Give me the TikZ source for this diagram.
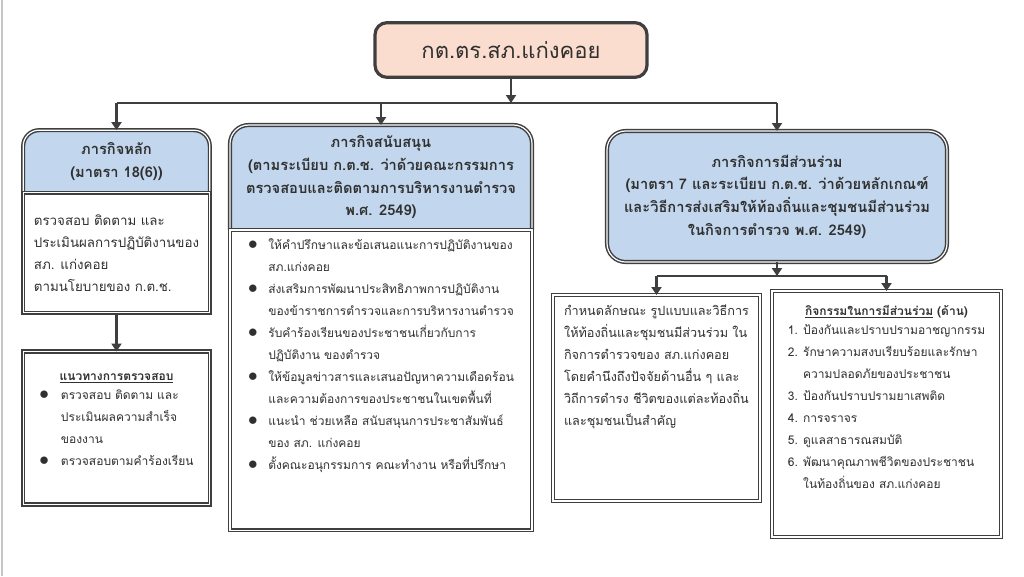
\documentclass[tikz,border=0pt]{standalone}
\usepackage{fontspec}
\setmainfont[Script=Thai]{Loma}
\usepackage{array}
\usetikzlibrary{arrows.meta}
\usetikzlibrary{positioning}
\usetikzlibrary{backgrounds}

\definecolor{edgegray}{HTML}{3F3F3F}
\definecolor{hdrblue}{HTML}{C2D7EE}
\definecolor{toppeach}{HTML}{FBDDD0}
\definecolor{txtgray}{HTML}{303030}

\newcommand{\bl}{{\fontsize{15}{15}\selectfont$\bullet$}}

\begin{document}
\begin{tikzpicture}[
    x=0.75pt, y=-0.75pt,
    node distance=0pt,
    every node/.style={text=txtgray, outer sep=0pt},
    dblline/.style={draw=edgegray, line width=1.1pt, double=white, double distance=0.9pt},
    titlebox/.style={
        draw=edgegray, line width=2.4pt,
        fill=toppeach, rounded corners=9pt,
        minimum width=204pt, minimum height=41pt,
        font=\fontsize{16.5}{20}\selectfont
    },
    headtext/.style={font=\fontsize{11}{17}\selectfont\bfseries, align=center},
    headbox/.style={dblline, fill=hdrblue, headtext},
    bodybox/.style={
        dblline, fill=white,
        font=\fontsize{10}{16.5}\selectfont
    },
    smalltext/.style={font=\fontsize{9}{16.5}\selectfont},
    link/.style={draw=edgegray, line width=1.8pt, -{Triangle[length=6pt,width=7.5pt]}},
    bus/.style={draw=edgegray, line width=1.8pt}
]
\useasboundingbox (0,0) rectangle (1024,576);
\begin{scope}[on background layer]
\fill[white] (0,0) rectangle (1024,576);
\end{scope}
\draw[gray!45, line width=0.8pt] (2,0) -- (2,576);

% top
\node[titlebox] (title) at (511,50) {กต.ตร.สภ.แก่งคอย};

% main duty
\node[headtext, minimum width=140pt, minimum height=47pt] (mainh) at (116.5,161.5)
    {ภารกิจหลัก\\(มาตรา 18(6))};
\node[bodybox, minimum width=140pt, minimum height=90pt,
      align=left, below=of mainh] (mainb)
    {ตรวจสอบ ติดตาม และ\\ประเมินผลการปฏิบัติงานของ\\สภ. แก่งคอย\\ตามนโยบายของ ก.ต.ช.};
\node[bodybox, smalltext, minimum width=140pt, minimum height=114.75pt, align=center,
      below=29pt of mainb] (guide)
    {\textbf{\underline{แนวทางการตรวจสอบ}}\\
     \begin{tabular}{@{}c@{\hspace{9pt}}l@{}}
     \bl & ตรวจสอบ ติดตาม และ\\
         & ประเมินผลความสำเร็จ\\
         & ของงาน\\
     \bl & ตรวจสอบตามคำร้องเรียน\\[8pt]
     \end{tabular}};

% support duty
\node[headtext, minimum width=226.5pt, minimum height=78.75pt] (supph) at (381,177.5)
    {ภารกิจสนับสนุน\\(ตามระเบียบ ก.ต.ช. ว่าด้วยคณะกรรมการ\\ตรวจสอบและติดตามการบริหารงานตำรวจ\\พ.ศ. 2549)};
\node[bodybox, smalltext, minimum width=226.5pt, minimum height=224.25pt, align=center,
      below=of supph] (suppb)
    {\begin{tabular}{@{}c@{\hspace{8pt}}l@{}}
     \bl & ให้คำปรึกษาและข้อเสนอแนะการปฏิบัติงานของ\\
         & สภ.แก่งคอย\\
     \bl & ส่งเสริมการพัฒนาประสิทธิภาพการปฏิบัติงาน\\
         & ของข้าราชการตำรวจและการบริหารงานตำรวจ\\
     \bl & รับคำร้องเรียนของประชาชนเกี่ยวกับการ\\
         & ปฏิบัติงาน ของตำรวจ\\
     \bl & ให้ข้อมูลข่าวสารและเสนอปัญหาความเดือดร้อน\\
         & และความต้องการของประชาชนในเขตพื้นที่\\
     \bl & แนะนำ ช่วยเหลือ สนับสนุนการประชาสัมพันธ์\\
         & ของ สภ. แก่งคอย\\
     \bl & ตั้งคณะอนุกรรมการ คณะทำงาน หรือที่ปรึกษา\\[37pt]
     \end{tabular}};

% participation duty
\node[headbox, rounded corners=14pt, minimum width=255pt, minimum height=98.25pt] (parth) at (777,196.5)
    {ภารกิจการมีส่วนร่วม\\(มาตรา 7 และระเบียบ ก.ต.ช. ว่าด้วยหลักเกณฑ์\\และวิธีการส่งเสริมให้ท้องถิ่นและชุมชนมีส่วนร่วม\\ในกิจการตำรวจ พ.ศ. 2549)};
\node[bodybox, font=\fontsize{9.5}{16.5}\selectfont, minimum width=155.25pt, minimum height=154.5pt,
      align=left] (formb) at (656.5,398)
    {กำหนดลักษณะ รูปแบบและวิธีการ\\ให้ท้องถิ่นและชุมชนมีส่วนร่วม ใน\\กิจการตำรวจของ สภ.แก่งคอย\\โดยคำนึงถึงปัจจัยด้านอื่น ๆ และ\\วิถีการดำรง ชีวิตของแต่ละท้องถิ่น\\และชุมชนเป็นสำคัญ\\[33pt]};
\node[bodybox, smalltext, minimum width=171.75pt, minimum height=184.5pt, align=center] (actb) at (886.5,414)
    {\textbf{\underline{กิจกรรมในการมีส่วนร่วม} (ด้าน)}\\
     \begin{tabular}{@{}r@{\hspace{4pt}}l@{}}
     1. & ป้องกันและปราบปรามอาชญากรรม\\
     2. & รักษาความสงบเรียบร้อยและรักษา\\
        & ความปลอดภัยของประชาชน\\
     3. & ป้องกันปราบปรามยาเสพติด\\
     4. & การจราจร\\
     5. & ดูแลสาธารณสมบัติ\\
     6. & พัฒนาคุณภาพชีวิตของประชาชน\\
        & ในท้องถิ่นของ สภ.แก่งคอย\\[21pt]
     \end{tabular}};

% header shapes with rounded top only
\begin{scope}[on background layer]
\draw[dblline, fill=hdrblue, rounded corners=12pt]
    (mainh.south west) -- (mainh.north west) -- (mainh.north east) -- (mainh.south east);
\draw[dblline, fill=hdrblue, rounded corners=14pt]
    (supph.south west) -- (supph.north west) -- (supph.north east) -- (supph.south east);
\end{scope}

% connectors
\coordinate (busm) at (509,103);
\coordinate (busr) at (770,276);
\draw[link] (title.south) -- (title.south |- busm);
\draw[bus] (mainh.north |- busm) -- (parth.north |- busm);
\draw[link] (mainh.north |- busm) -- (mainh.north);
\draw[link] (supph.north |- busm) -- (supph.north);
\draw[link] (parth.north |- busm) -- (parth.north);
\draw[link] (mainb.south) -- (guide.north);
\draw[link] (parth.south) -- (parth.south |- busr);
\draw[bus] (formb.north |- busr) -- (actb.north |- busr);
\draw[link] (formb.north |- busr) -- (formb.north);
\draw[link] (actb.north |- busr) -- (actb.north);
\end{tikzpicture}
\end{document}
